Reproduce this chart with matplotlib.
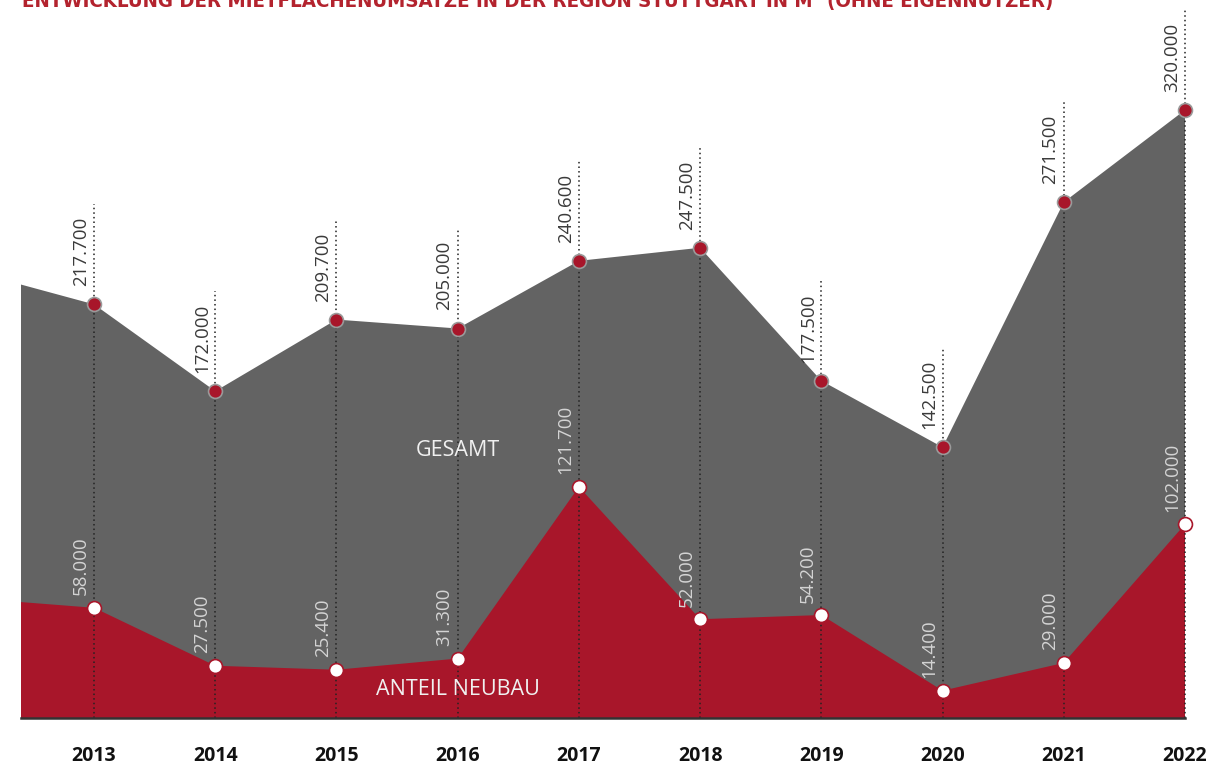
import matplotlib
matplotlib.use("Agg")
import matplotlib.pyplot as plt

plt.rcParams["font.family"] = ["Open Sans", "DejaVu Sans"]

# Mietflächenumsätze Region Stuttgart in m² (2012 only as partial left edge, estimated)
years   = [2012, 2013, 2014, 2015, 2016, 2017, 2018, 2019, 2020, 2021, 2022]
gesamt  = [235000, 217700, 172000, 209700, 205000, 240600, 247500, 177500, 142500, 271500, 320000]
neubau  = [63000, 58000, 27500, 25400, 31300, 121700, 52000, 54200, 14400, 29000, 102000]
labels_gesamt = ["217.700", "172.000", "209.700", "205.000", "240.600",
                 "247.500", "177.500", "142.500", "271.500", "320.000"]
labels_neubau = ["58.000", "27.500", "25.400", "31.300", "121.700",
                 "52.000", "54.200", "14.400", "29.000", "102.000"]

GREY = "#636363"
RED = "#a8162a"
TITLE_RED = "#b3232e"

W, H = 1211, 765
fig = plt.figure(figsize=(W / 100, H / 100), dpi=100)
ax = fig.add_axes([21 / W, 47 / H, (1185 - 21) / W, 718 / H])

ax.fill_between(years, 0, gesamt, color=GREY, lw=0, zorder=1)
ax.fill_between(years, 0, neubau, color=RED, lw=0, zorder=2)

px_per_unit = 1.9 / 1000  # pixels per m²
ax.set_xlim(2013 - 73 / 121.1, 2022)
ax.set_ylim(0, 718 / px_per_unit)

line_extra = 100 / px_per_unit  # dotted guide reaches ~100 px above the point

shown = years[1:]
for yr, g, n, lg, ln in zip(shown, gesamt[1:], neubau[1:], labels_gesamt, labels_neubau):
    ax.plot([yr, yr], [0, g + line_extra], color="#222222",
            lw=1.1, ls=(0, (1, 2)), zorder=3, clip_on=False)
    ax.annotate(lg, (yr, g), xytext=(-3, 13), textcoords="offset points",
                rotation=90, ha="right", va="bottom", fontsize=13.5,
                color="#3a3a3a", zorder=5)
    ax.annotate(ln, (yr, n), xytext=(-3, 9), textcoords="offset points",
                rotation=90, ha="right", va="bottom", fontsize=13.5,
                color="#d4d4d4", zorder=5)

ax.plot(shown, gesamt[1:], ls="none", marker="o", ms=10, mfc=RED, mec="#9a9a9a",
        mew=1.2, zorder=6, clip_on=False)
ax.plot(shown, neubau[1:], ls="none", marker="o", ms=10, mfc="white", mec=RED,
        mew=1.2, zorder=6, clip_on=False)

ax.text(2016, 141000, "GESAMT", ha="center", va="center", fontsize=15.5,
        color="#f0f0f0", zorder=4)
ax.text(2016, 15000, "ANTEIL NEUBAU", ha="center", va="center", fontsize=15.5,
        color="#f0f0f0", zorder=4)

for s in ["top", "left", "right"]:
    ax.spines[s].set_visible(False)
ax.spines["bottom"].set_color("#333333")
ax.spines["bottom"].set_linewidth(1.8)
ax.spines["bottom"].set_zorder(7)
ax.set_yticks([])
ax.set_xticks(shown)
ax.set_xticklabels([str(y) for y in shown], fontsize=14, fontweight="bold", color="#111111")
ax.tick_params(axis="x", length=0, pad=20)
ax.set_facecolor("none")

# title is cut off at the top edge, as in the original
fig.text(22 / W, 1.0, "ENTWICKLUNG DER MIETFLÄCHENUMSÄTZE IN DER REGION STUTTGART IN M² (OHNE EIGENNUTZER)",
         ha="left", va="center", fontsize=14.7, fontweight="bold", color=TITLE_RED,
         family="DejaVu Sans", fontstretch="condensed")

fig.savefig("out.png", dpi=100)
